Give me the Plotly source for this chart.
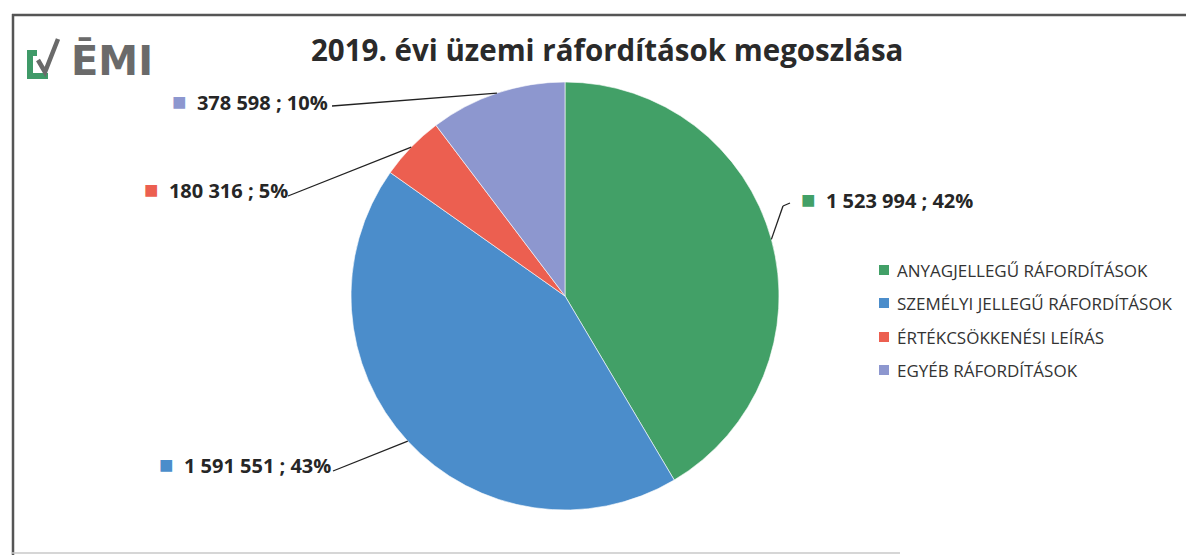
import math
import plotly.graph_objects as go

# ---------------- data ----------------
categories = ["ANYAGJELLEGŰ RÁFORDÍTÁSOK", "SZEMÉLYI JELLEGŰ RÁFORDÍTÁSOK",
              "ÉRTÉKCSÖKKENÉSI LEÍRÁS", "EGYÉB RÁFORDÍTÁSOK"]
values = [1523994, 1591551, 180316, 378598]
pct_labels = [42, 43, 5, 10]
colors = ["#42a067", "#4b8dcb", "#ec5f50", "#8d97cf"]
title_text = "2019. évi üzemi ráfordítások megoszlása"

# ---------------- layout geometry (pixels) ----------------
W, H = 1186, 558
CX, CY, R = 565, 296, 214


def px(x):
    return x / W


def py(y):
    return 1 - y / H


fig = go.Figure(go.Pie(
    labels=categories, values=values, sort=False, direction="clockwise",
    rotation=0, marker=dict(colors=colors, line=dict(color="rgba(255,255,255,0.6)", width=1)),
    textinfo="none", showlegend=False, hoverinfo="label+value+percent",
    domain=dict(x=[px(CX - R), px(CX + R)], y=[py(CY + R), py(CY - R)]),
))

# label anchors (where the leader line leaves the label) and label text positions
label_pos = [  # (text right x, text center y, line start x, line start y, elbow)
    (975, 198, 783, 206, (790, 203)),
    (333, 463, 333, 471, None),
    (290, 188, 288, 196, None),
    (330, 100, 332, 106, None),
]

shapes = []
annotations = []
total = sum(values)
cum = 0
for i, v in enumerate(values):
    mid = (cum + v / 2) / total * 2 * math.pi
    cum += v
    ex = CX + R * math.sin(mid)
    ey = CY - R * math.cos(mid)
    tx, ty, lx, ly, elbow = label_pos[i]
    shapes.append(dict(type="line", xref="paper", yref="paper",
                       x0=px(ex), y0=py(ey), x1=px(lx), y1=py(ly),
                       line=dict(color="#222", width=1.3)))
    if elbow:
        shapes.append(dict(type="line", xref="paper", yref="paper",
                           x0=px(lx), y0=py(ly), x1=px(elbow[0]), y1=py(elbow[1]),
                           line=dict(color="#222", width=1.3)))
    num = f"{v:,}".replace(",", " ")
    annotations.append(dict(
        xref="paper", yref="paper", x=px(tx), y=py(ty), xanchor="right", yanchor="middle",
        showarrow=False,
        text=f'<span style="color:{colors[i]};font-size:24px">■</span>  <b>{num} ; {pct_labels[i]}%</b>',
        font=dict(family="Open Sans", size=20, color="#262626"),
    ))

# legend (manual, for Excel-like spacing)
leg_y = [270, 303, 337, 370]
for i, cat in enumerate(categories):
    shapes.append(dict(type="rect", xref="paper", yref="paper",
                       x0=px(879), x1=px(889), y0=py(leg_y[i] - 5), y1=py(leg_y[i] + 5),
                       fillcolor=colors[i], line=dict(width=0)))
    annotations.append(dict(
        xref="paper", yref="paper", x=px(895), y=py(leg_y[i]), xanchor="left", yanchor="middle",
        showarrow=False, text=cat,
        font=dict(family="Open Sans", size=17, color="#333"),
    ))

# title
annotations.append(dict(
    xref="paper", yref="paper", x=px(607), y=py(49), xanchor="center", yanchor="middle",
    showarrow=False, text=f"<b>{title_text}</b>",
    font=dict(family="Open Sans", size=29.5, color="#2a2a2a"),
))

# logo
annotations.append(dict(
    xref="paper", yref="paper", x=px(69), y=py(60), xanchor="left", yanchor="middle",
    showarrow=False, text="<b>ĒMI</b>",
    font=dict(family="DejaVu Sans", size=40, color="#6a6a6a"),
))
shapes.append(dict(type="path", xref="paper", yref="paper",
                   path=f"M {px(37)},{py(53)} L {px(30)},{py(53)} L {px(30)},{py(76)} L {px(48)},{py(76)}",
                   line=dict(color="#3f9a68", width=6)))
shapes.append(dict(type="path", xref="paper", yref="paper",
                   path=f"M {px(38)},{py(60)} L {px(45)},{py(72)} L {px(58)},{py(39)}",
                   line=dict(color="#6a6a6a", width=4.5)))

# scan frame
shapes.append(dict(type="line", xref="paper", yref="paper", x0=px(12), x1=1, y0=py(15), y1=py(15),
                   line=dict(color="#555", width=2.5)))
shapes.append(dict(type="line", xref="paper", yref="paper", x0=px(13), x1=px(13), y0=py(14), y1=py(555),
                   line=dict(color="#555", width=2.5)))
shapes.append(dict(type="line", xref="paper", yref="paper", x0=px(12), x1=px(900), y0=py(553), y1=py(553),
                   line=dict(color="#c8c8c8", width=1.5)))

fig.update_layout(
    width=W, height=H, autosize=False,
    margin=dict(l=0, r=0, t=0, b=0),
    paper_bgcolor="white", plot_bgcolor="white",
    shapes=shapes, annotations=annotations,
)

fig.write_html("out.html", config={"displayModeBar": False},
               post_script="document.body.style.margin='0';document.body.style.overflow='hidden';")
